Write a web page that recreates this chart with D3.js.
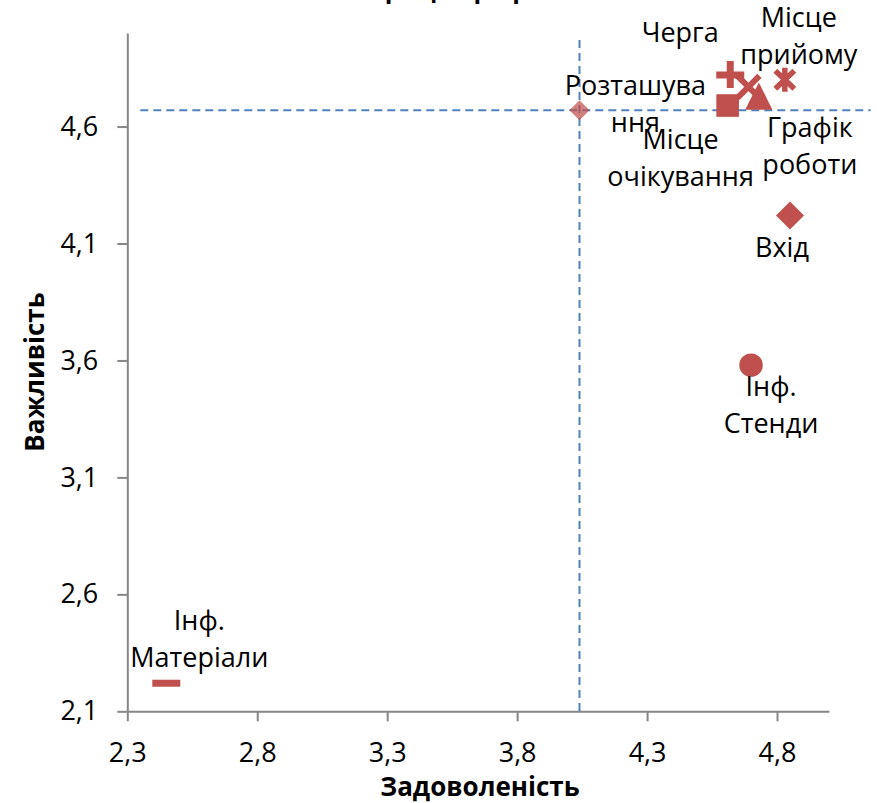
<!DOCTYPE html>
<html>
<head>
<meta charset="utf-8">
<script src="https://cdn.jsdelivr.net/npm/d3@7"></script>
<style>
  html, body { margin: 0; padding: 0; background: #fff; }
  svg { display: block; font-family: "Open Sans", sans-serif; }
</style>
</head>
<body>
<svg id="chart" width="877" height="803"></svg>
<script>
// Service factors: satisfaction (x) versus importance (y)
const categories = ["Черга", "Розташування", "Місце прийому", "Місце очікування",
                    "Графік роботи", "Вхід", "Інф. Стенди", "Інф. Матеріали"];
const satisfaction = [4.62, 4.69, 4.83, 4.61, 4.73, 4.85, 4.70, 2.45];
const importance   = [4.82, 4.77, 4.80, 4.69, 4.73, 4.22, 3.58, 2.22];
const labelLines = [["Черга"], ["Розташува", "ння"], ["Місце", "прийому"], ["Місце", "очікування"],
                    ["Графік", "роботи"], ["Вхід"], ["Інф.", "Стенди"], ["Інф.", "Матеріали"]];

// Average point and the quadrant lines drawn through it
const meanPoint = [4.04, 4.67];
const meanLineX = [2.35, 5.16];
const meanLineY = [2.1, 4.97];

const xTicks = [2.3, 2.8, 3.3, 3.8, 4.3, 4.8];
const yTicks = [2.1, 2.6, 3.1, 3.6, 4.1, 4.6];
const xDomain = [2.3, 5.0];
const yDomain = [2.1, 5.0];

const chartTitle = "Матриця пріоритетів";
const xTitle = "Задоволеність";
const yTitle = "Важливість";

// ---- layout & style ----
const markerKinds = ["plus", "cross", "star", "square", "triangle", "diamond", "circle", "dash"];
// label anchor relative to its marker: [dx of text centre, dy of first baseline]
const labelShift = [[-50, -33], [-113, 8], [14, -53], [-47, 43], [51, 41], [-8, 42], [20, 31], [33, -53]];
const lineGap = 37;
const red = "#C0504D";
const blue = "#4F81BD";
const axisGrey = "#868686";

const svg = d3.select("#chart");
const x = d3.scaleLinear().domain(xDomain).range([127.3, 829]);
const y = d3.scaleLinear().domain(yDomain).range([711.3, 33]);

const locale = d3.formatLocale({ decimal: ",", thousands: " ", grouping: [3], currency: ["", ""] });
const fmt = locale.format(".1f");

// Axes
const gx = svg.append("g").attr("transform", `translate(0,${y(yDomain[0])})`)
  .call(d3.axisBottom(x).tickValues(xTicks).tickFormat(fmt).tickSize(10).tickSizeOuter(0).tickPadding(22));
const gy = svg.append("g").attr("transform", `translate(${x(xDomain[0])},0)`)
  .call(d3.axisLeft(y).tickValues(yTicks).tickFormat(fmt).tickSize(10).tickSizeOuter(0).tickPadding(19));
[gx, gy].forEach(g => {
  g.select(".domain").attr("stroke", axisGrey).attr("stroke-width", 2);
  g.selectAll(".tick line").attr("stroke", axisGrey).attr("stroke-width", 2);
  g.selectAll(".tick text").attr("fill", "#000").style("font-size", "27px")
    .style("font-family", '"Open Sans", sans-serif');
});

// Quadrant lines through the average point
const dash = "8,5";
svg.append("line")
  .attr("x1", x(meanLineX[0])).attr("x2", x(meanLineX[1]))
  .attr("y1", y(meanPoint[1])).attr("y2", y(meanPoint[1]))
  .attr("stroke", blue).attr("stroke-width", 2).attr("stroke-dasharray", dash);
svg.append("line")
  .attr("x1", x(meanPoint[0])).attr("x2", x(meanPoint[0]))
  .attr("y1", y(meanLineY[1])).attr("y2", y(meanLineY[0]))
  .attr("stroke", blue).attr("stroke-width", 2).attr("stroke-dasharray", dash);

// Average marker
svg.append("path")
  .attr("transform", `translate(${x(meanPoint[0])},${y(meanPoint[1])})`)
  .attr("d", "M0,-10L10,0L0,10L-10,0Z")
  .attr("fill", red).attr("fill-opacity", 0.72);

// Marker shapes
function drawMarker(g, kind) {
  switch (kind) {
    case "plus":
      g.append("path").attr("d", "M-14,0H14M0,-14V13").attr("stroke", red).attr("stroke-width", 7).attr("fill", "none");
      break;
    case "cross":
      g.append("path").attr("d", "M-11,-11L11,11M-11,11L11,-11").attr("stroke", red).attr("stroke-width", 6).attr("fill", "none");
      break;
    case "star":
      g.append("path").attr("d", "M-9.5,-9L9.5,9M-9.5,9L9.5,-9M0,-12V12").attr("stroke", red).attr("stroke-width", 5.5).attr("fill", "none");
      break;
    case "square":
      g.append("rect").attr("x", -11.3).attr("y", -11.3).attr("width", 22.6).attr("height", 22.6).attr("fill", red);
      break;
    case "triangle":
      g.append("path").attr("d", "M0,-13.7L13.6,13.7L-13.6,13.7Z").attr("fill", red);
      break;
    case "diamond":
      g.append("path").attr("d", "M0,-14L14,0L0,14L-14,0Z").attr("fill", red);
      break;
    case "circle":
      g.append("circle").attr("r", 11.7).attr("fill", red);
      break;
    case "dash":
      g.append("rect").attr("x", -14).attr("y", -3.5).attr("width", 28).attr("height", 7).attr("fill", red);
      break;
  }
}

const points = categories.map((c, i) => ({
  name: c, sx: satisfaction[i], iy: importance[i],
  kind: markerKinds[i], lines: labelLines[i], shift: labelShift[i]
}));

const pg = svg.append("g").selectAll("g").data(points).join("g")
  .attr("transform", d => `translate(${x(d.sx)},${y(d.iy)})`);
pg.each(function(d) { drawMarker(d3.select(this), d.kind); });

// Data labels
const lg = svg.append("g").selectAll("text").data(points).join("text")
  .attr("text-anchor", "middle")
  .attr("fill", "#000")
  .style("font-size", "27px")
  .attr("x", d => x(d.sx) + d.shift[0])
  .attr("y", d => y(d.iy) + d.shift[1]);
lg.selectAll("tspan").data(d => d.lines.map((t, k) => ({ t, k, d }))).join("tspan")
  .attr("x", o => x(o.d.sx) + o.d.shift[0])
  .attr("dy", o => o.k === 0 ? 0 : lineGap)
  .text(o => o.t);

// Axis titles
svg.append("text")
  .attr("x", 480).attr("y", 796)
  .attr("text-anchor", "middle")
  .style("font-size", "26px").style("font-weight", "bold")
  .text(xTitle);
svg.append("text")
  .attr("transform", "translate(44,372) rotate(-90)")
  .attr("text-anchor", "middle")
  .style("font-size", "26px").style("font-weight", "bold")
  .text(yTitle);

// Chart title, sitting above the top edge
const title = svg.append("text")
  .attr("x", 0).attr("y", -2.5)
  .style("font-size", "25px").style("font-weight", "bold")
  .text(chartTitle);
const node = title.node();
const a = node.getExtentOfChar(3), b = node.getExtentOfChar(9);
const mid = (a.x + a.width / 2 + b.x + b.width / 2) / 2;
title.attr("x", 437 - mid);
</script>
</body>
</html>
